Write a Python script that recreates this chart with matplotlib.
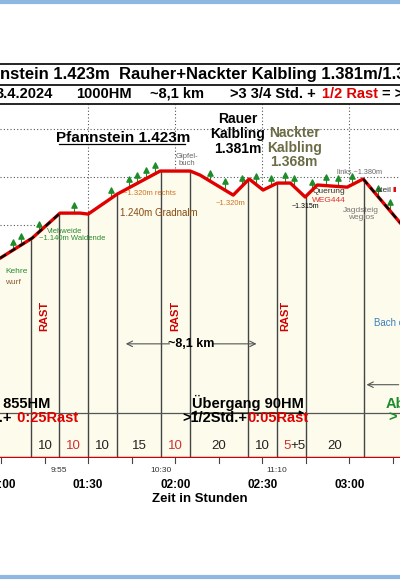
import numpy as np
import matplotlib.pyplot as plt

plt.rcParams['font.family'] = ['Liberation Sans', 'DejaVu Sans']

# profile: time in minutes since start, elevation in m
prof_t = [59.7, 70.7, 80.3, 87.2, 90.0, 100.0, 114.8, 125.2, 128.6, 140.0, 145.5,
          150.3, 155.2, 159.7, 164.8, 169.0, 179.3, 184.8, 197.6]
prof_h = [1061, 1144, 1248, 1248, 1244, 1327, 1423, 1423, 1406, 1323, 1390,
          1344, 1373, 1373, 1315, 1365, 1356, 1390, 1207]

# segment boundaries and segment durations
seg_t = [70.3, 80, 90, 100, 115, 125, 145, 155, 165, 185]
seg_lbl = ['10', '10', '10', '15', '10', '20', '10', '5+5', '20']
seg_red = [False, True, False, False, True, False, False, True, False]
clock_t = [80, 115, 155]
clock_lbl = ['9:55', '10:30', '11:10']
rast_t = [75, 120, 158]
tick_t = [60, 90, 120, 150, 180]
tick_lbl = ['01:00', '01:30', '02:00', '02:30', '03:00']
tree_t = [64, 67, 73, 85, 98, 104, 107, 110, 113, 132, 137, 143, 148, 153, 158, 161, 167, 172, 176, 181, 190, 194]

fig = plt.figure(figsize=(4, 5.8), dpi=100)
ax = fig.add_axes([0, 1 - 458 / 580, 1, (458 - 104) / 580])
x0, x1 = 59.6, 197.5
ax.set_xlim(x0, x1)
ax.set_ylim(229, 1702)
ax.axis('off')

for h in [1000, 1200, 1400, 1600]:
    ax.axhline(h, color='#555555', ls=(0, (1, 2)), lw=0.8, zorder=0)
for t in tick_t[1:]:
    ax.axvline(t, color='#555555', ls=(0, (1, 2)), lw=0.8, zorder=0)

ax.fill_between(prof_t, prof_h, 229, color='#fdfcec', zorder=1)
for t in seg_t:
    ax.plot([t, t], [229, np.interp(t, prof_t, prof_h)], color='#444444', lw=1, zorder=2)

ax.plot(prof_t, prof_h, color='#e00000', lw=2.4, zorder=4)
for a, b in [(59.7, 80.3), (184.8, 197.6)]:
    m = [(t >= a) and (t <= b) for t in prof_t]
    ax.plot(np.array(prof_t)[m], np.array(prof_h)[m], color='black', lw=1.6,
            ls=(0, (3, 2)), zorder=5)
tree_h = np.interp(tree_t, prof_t, prof_h) + 35
ax.scatter(tree_t, tree_h, marker='^', s=14, color='#1e8c2a', zorder=3)
ax.vlines(tree_t, tree_h - 35, tree_h, color='#1e8c2a', lw=0.8, zorder=3)

ax.axhline(229, color='#d00000', lw=2.5, zorder=6)
for t in np.arange(60, 198, 15):
    ax.plot([t, t], [229, 210], color='#444444', lw=0.8, clip_on=False)

for i, lbl in enumerate(seg_lbl):
    xm = (seg_t[i] + seg_t[i + 1]) / 2
    if lbl == '5+5':
        ax.text(xm - 0.3, 265, '5', color='#d03030', ha='right', fontsize=9.5)
        ax.text(xm - 0.3, 265, '+5', color='#222222', ha='left', fontsize=9.5)
    else:
        ax.text(xm, 265, lbl, color='#d03030' if seg_red[i] else '#222222',
                ha='center', fontsize=9.5)
for t in rast_t:
    ax.text(t, 820, 'RAST', color='#d00000', rotation=90, ha='center', va='center',
            fontsize=8, fontweight='bold')

# distance arrow
ax.annotate('', xy=(102, 704), xytext=(119, 704),
            arrowprops=dict(arrowstyle='->', color='#555555', lw=0.8))
ax.annotate('', xy=(149, 704), xytext=(132, 704),
            arrowprops=dict(arrowstyle='->', color='#555555', lw=0.8))
ax.text(125.5, 704, '~8,1 km', ha='center', va='center', fontsize=9, fontweight='bold')

# sections
ax.axhline(416, color='#555555', lw=0.9)
ax.annotate('', xy=(124.5, 416), xytext=(165.5, 416),
            arrowprops=dict(arrowstyle='<|-|>', color='black', lw=0.8, mutation_scale=7))
ax.annotate('', xy=(185, 534), xytext=(198, 534),
            arrowprops=dict(arrowstyle='->', color='#555555', lw=0.8))
ax.text(145, 437, 'Übergang 90HM', ha='center', fontsize=10.5, fontweight='bold')
ax.text(145, 380, '>1/2Std.+', ha='right', fontsize=10.5, fontweight='bold')
ax.text(145, 380, '0:05Rast', ha='left', fontsize=10.5, fontweight='bold', color='#e00000')
ax.text(77, 437, 'g 855HM', ha='right', fontsize=10.5, fontweight='bold')
ax.text(64, 380, 'td.+', ha='right', fontsize=10.5, fontweight='bold')
ax.text(64, 380, ' 0:25Rast', ha='left', fontsize=10.5, fontweight='bold', color='#e00000')
ax.text(192.5, 437, 'Ab', ha='left', fontsize=10.5, fontweight='bold', color='#1e8c2a')
ax.text(193.5, 380, '>', ha='left', fontsize=10.5, fontweight='bold', color='#1e8c2a')
ax.text(188.5, 777, 'Bach c', ha='left', fontsize=7, color='#3a7fc0')

# annotations on profile
ax.text(102, 1545, 'Pfannstein 1.423m', ha='center', fontsize=11, fontweight='bold')
ax.plot([80, 123.5], [1537, 1537], color='black', lw=0.9)
ax.text(141.5, 1500, 'Rauer\nKalbling\n1.381m', ha='center', fontsize=10, fontweight='bold',
        linespacing=1.05)
ax.text(161, 1443, 'Nackter\nKalbling\n1.368m', ha='center', fontsize=10, fontweight='bold',
        color='#6b6b45', linespacing=1.05)
ax.text(124, 1450, 'Gipfel-\nbuch', ha='center', fontsize=5.5, color='#666666', linespacing=0.9)
ax.text(102, 1322, '~1.320m rechts', fontsize=5.5, color='#d07020')
ax.text(101, 1235, '1.240m Gradnalm', fontsize=7, color='#8a4a10')
ax.text(82, 1164, 'Viehweide', ha='center', fontsize=5.5, color='#2a8a30')
ax.text(73, 1135, '~1.140m Waldende', fontsize=5.5, color='#2a8a30')
ax.text(139, 1280, '~1.320m', ha='center', fontsize=5.5, color='#d07020')
ax.text(165, 1268, '~1.315m', ha='center', fontsize=5, color='black')
ax.text(173, 1330, 'Querung', ha='center', fontsize=6, color='#333333')
ax.text(173, 1293, 'WEG444', ha='center', fontsize=6, color='#e03030')
ax.text(183.5, 1410, 'links ~1.380m', ha='center', fontsize=5.2, color='#666666')
ax.text(189.5, 1336, 'steil', fontsize=6, color='#333333')
ax.text(195, 1336, 'II', fontsize=6, color='#e00000', fontweight='bold')
ax.text(184, 1225, 'Jagdsteig\nweglos', ha='center', fontsize=6, color='#777777', linespacing=1.0)
ax.text(61.5, 1000, 'Kehre', fontsize=6, color='#2a8a30')
ax.text(61.5, 955, 'wurf', fontsize=6, color='#8a5a30')

for t, lbl in zip(clock_t, clock_lbl):
    ax.text(t, 190, lbl, ha='center', va='top', fontsize=6, color='#333333')
for t, lbl in zip(tick_t, tick_lbl):
    ax.text(t, 140, lbl, ha='center', va='top', fontsize=8.5, fontweight='bold')
ax.text(128.5, 85, 'Zeit in Stunden', ha='center', va='top', fontsize=9.5, fontweight='bold')

# header
fig.text(-0.09, 1 - 75 / 580, 'Pfannstein 1.423m  Rauher+Nackter Kalbling 1.381m/1.368m',
         ha='left', va='center', fontsize=12, fontweight='bold')
row2 = [(-0.01, '3.4.2024', 'black'), (0.19, '1000HM', 'black'), (0.375, '~8,1 km', 'black'),
        (0.575, '>3 3/4 Std. +', 'black'), (0.805, '1/2 Rast', '#e00000'), (0.955, '= >', 'black')]
for xx, s, c in row2:
    fig.text(xx, 1 - 94 / 580, s, ha='left', va='center', fontsize=10.5, fontweight='bold', color=c)
for yy in [64, 85, 104]:
    fig.add_artist(plt.Line2D([0, 1], [1 - yy / 580] * 2, color='black', lw=1.2))
fig.add_artist(plt.Line2D([0, 1], [1 - 1.5 / 580] * 2, color='#8fb8e0', lw=3))
fig.add_artist(plt.Line2D([0, 1], [1 - 577 / 580] * 2, color='#8fb8e0', lw=3))

fig.savefig('out.png', dpi=100)
